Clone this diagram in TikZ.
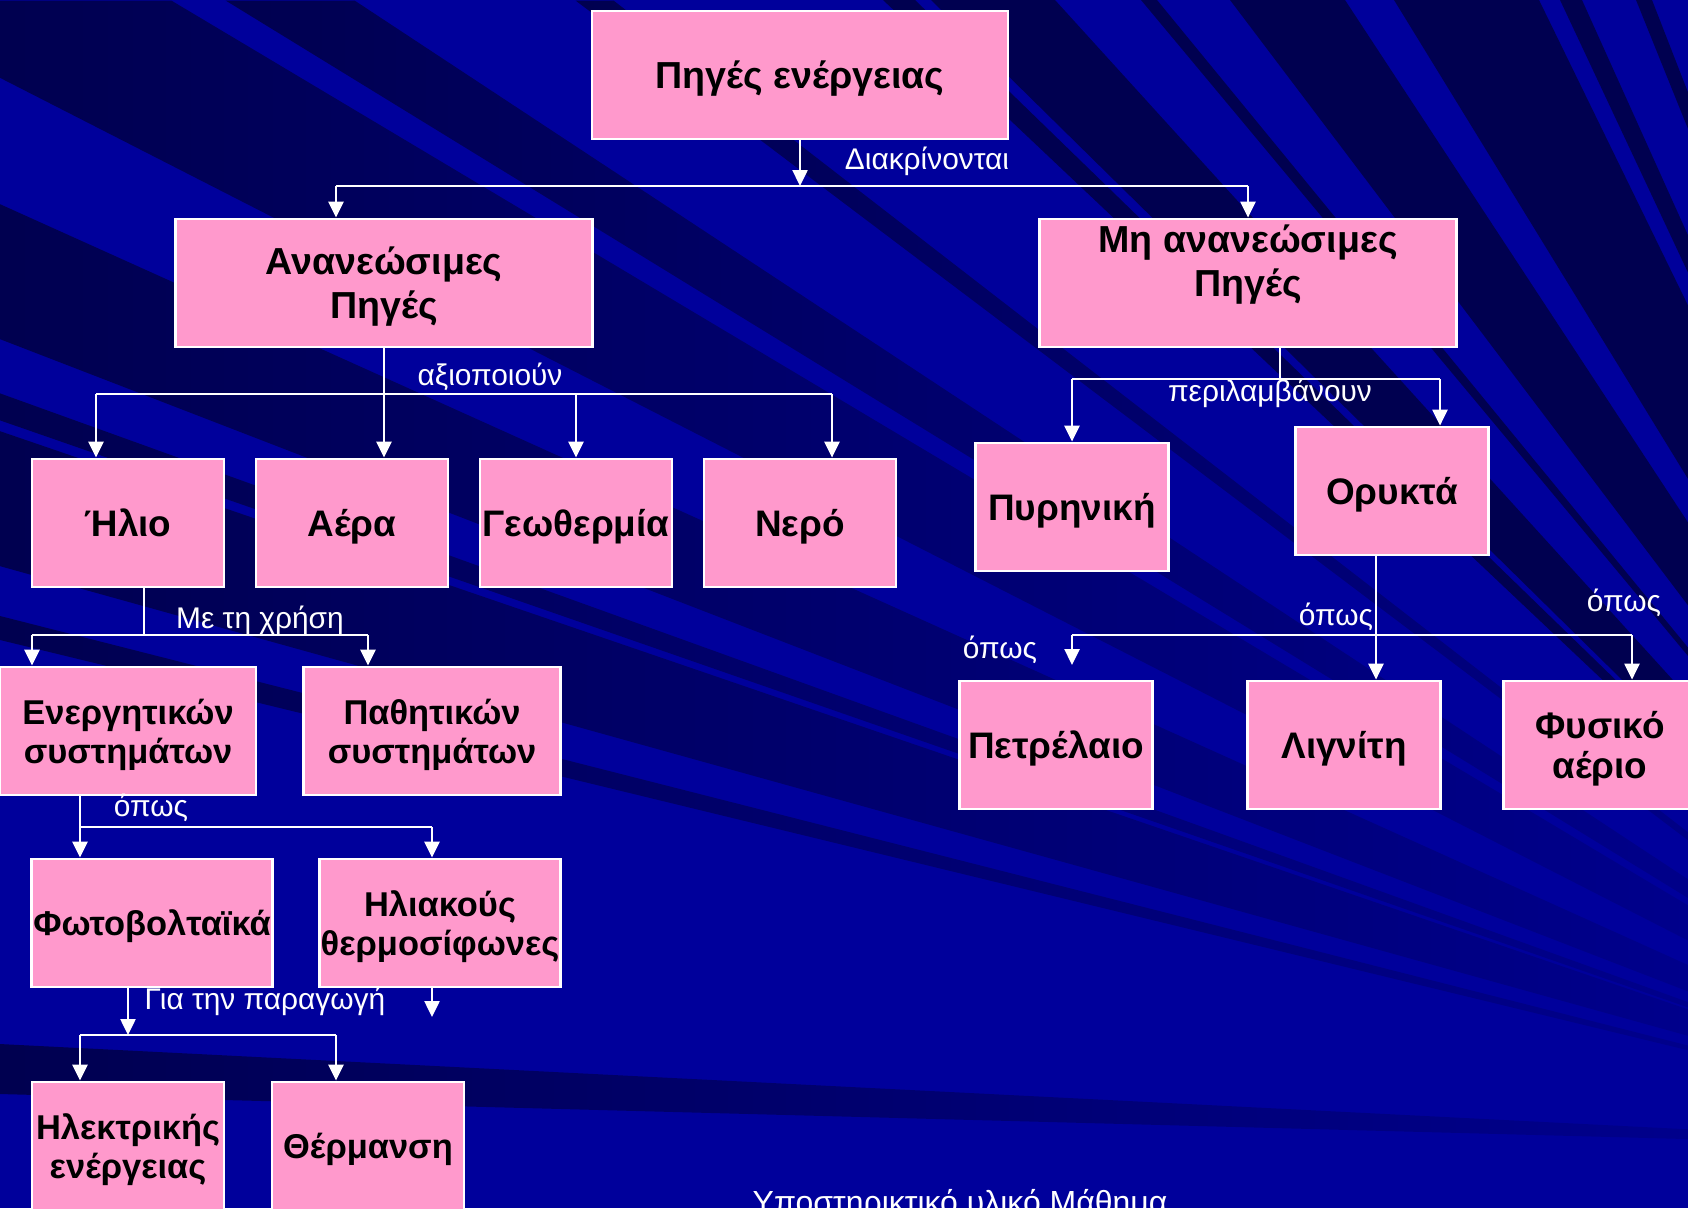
\documentclass[tikz,border=0pt]{standalone}
\usepackage{fontspec}
\setmainfont{Liberation Sans}
\usepackage{xcolor}
\usetikzlibrary{arrows.meta,fadings}
\definecolor{bgblue}{RGB}{0,0,155}
\definecolor{bgdark}{RGB}{0,0,80}
\definecolor{boxpink}{RGB}{255,153,204}
\tikzset{
  box/.style={draw=white, line width=0.8pt, fill=boxpink, align=center, inner sep=0pt,
    minimum height=12.8mm, text depth=0pt, font=\bfseries\fontsize{10.5}{11.5}\selectfont},
  bigbox/.style={box, font=\bfseries\fontsize{10.7}{12.6}\selectfont},
  smallbox/.style={box, font=\bfseries\fontsize{9.8}{11.2}\selectfont},
  conn/.style={draw=white, line width=0.7pt},
  arr/.style={conn, -{Triangle[length=1.6mm,width=1.5mm]}},
  lbl/.style={text=white, inner sep=0pt, font=\fontsize{8.5}{10}\selectfont},
  band/.style={fill=bgdark}
}

\begin{document}
\begin{tikzpicture}[x=0.1mm,y=-0.1mm]
  \useasboundingbox (0,0) rectangle (1688,1208);
  \clip (0,0) rectangle (1688,1208);
  % background stripes
  \fill[bgblue] (0,0) rectangle (1688,1208);
  \coordinate (F) at (2100,1150);
  \fill[band, path fading=east] (F) -- (0,77) -- (0,0) -- (172,0) -- cycle;
  \foreach \a/\b in {226/355,576/614}
    \fill[band, path fading=east] (F) -- (\a,0) -- (\b,0) -- cycle;
  \foreach \a/\b in {883/915,931/1055,1141/1157,1230/1345,1394/1539,1560/1582,1636/1652}
    \fill[band] (F) -- (\a,0) -- (\b,0) -- cycle;
  \foreach \a/\b in {204/339,393/420,431/566,616/640,1044/1094}
    \fill[band, path fading=east] (F) -- (0,\a) -- (0,\b) -- cycle;

  % boxes
  \node[bigbox, minimum width=41.6mm] (sources) at (800,75) {Πηγές ενέργειας};
  \node[bigbox, minimum width=41.7mm] (renew) at (384,283) {Ανανεώσιμες\\Πηγές};
  \node[bigbox, minimum width=41.7mm] (nonrenew) at (1248,283) {Μη ανανεώσιμες\\Πηγές\\\mbox{}};

  \node[box, minimum width=19.2mm] (sun) at (128,523) {Ήλιο};
  \node[box, minimum width=19.2mm] (air) at (352,523) {Αέρα};
  \node[box, minimum width=19.2mm] (geo) at (576,523) {Γεωθερμία};
  \node[box, minimum width=19.2mm] (water) at (800,523) {Νερό};

  \node[box, minimum width=19.3mm] (nuclear) at (1072,507) {Πυρηνική};
  \node[box, minimum width=19.3mm] (fossil) at (1392,491) {Ορυκτά};

  \node[smallbox, minimum width=25.6mm] (active) at (128,731) {Ενεργητικών\\συστημάτων};
  \node[smallbox, minimum width=25.7mm] (passive) at (432,731) {Παθητικών\\συστημάτων};

  \node[smallbox, minimum width=24.1mm] (pv) at (152,923) {Φωτοβολταϊκά};
  \node[smallbox, minimum width=24.1mm] (heater) at (440,923) {Ηλιακούς\\θερμοσίφωνες};

  \node[smallbox, minimum width=19.2mm] (power) at (128,1146) {Ηλεκτρικής\\ενέργειας};
  \node[smallbox, minimum width=19.2mm] (heating) at (368,1146) {Θέρμανση};

  \node[box, minimum width=19.3mm] (oil) at (1056,745) {Πετρέλαιο};
  \node[box, minimum width=19.3mm] (lignite) at (1344,745) {Λιγνίτη};
  \node[box, minimum width=19.3mm] (gas) at (1600,745) {Φυσικό\\αέριο};

  % junctions
  \coordinate (j0) at (800,186);
  \coordinate (j1) at (336,186);
  \coordinate (j2) at (1248,186);
  \coordinate (k1) at (96,394);
  \coordinate (k3) at (576,394);
  \coordinate (k4) at (832,394);
  \coordinate (m0) at (144,635);
  \coordinate (m1) at (32,635);
  \coordinate (m2) at (368,635);
  \coordinate (n0) at (80,827);
  \coordinate (n1) at (432,827);
  \coordinate (p0) at (128,1035);
  \coordinate (p1) at (80,1035);
  \coordinate (p2) at (336,1035);
  \coordinate (q0) at (432,1017);
  \coordinate (r0) at (1280,379);
  \coordinate (r1) at (1072,379);
  \coordinate (r2) at (1440,379);
  \coordinate (s0) at (1376,635);
  \coordinate (s1) at (1072,635);
  \coordinate (s2) at (1632,635);
  \coordinate (s3) at (1072,665);

  % connectors
  \draw[arr] (sources) -- (j0);
  \draw[conn] (j1) -- (j2);
  \draw[arr] (j1) -- (j1 |- renew.north);
  \draw[arr] (j2) -- (j2 |- nonrenew.north);

  \draw[arr] (renew) -- (renew |- air.north);
  \draw[conn] (k1) -- (k4);
  \draw[arr] (k1) -- (k1 |- sun.north);
  \draw[arr] (k3) -- (k3 |- geo.north);
  \draw[arr] (k4) -- (k4 |- water.north);

  \draw[conn] (m0 |- sun.south) -- (m0);
  \draw[conn] (m1) -- (m2);
  \draw[arr] (m1) -- (m1 |- active.north);
  \draw[arr] (m2) -- (m2 |- passive.north);

  \draw[conn] (n0 |- active.south) -- (n0) -- (n1);
  \draw[arr] (n0) -- (n0 |- pv.north);
  \draw[arr] (n1) -- (n1 |- heater.north);

  \draw[arr] (p0 |- pv.south) -- (p0);
  \draw[conn] (p1) -- (p2);
  \draw[arr] (p1) -- (p1 |- power.north);
  \draw[arr] (p2) -- (p2 |- heating.north);
  \draw[arr] (q0 |- heater.south) -- (q0);

  \draw[conn] (r0 |- nonrenew.south) -- (r0);
  \draw[conn] (r1) -- (r2);
  \draw[arr] (r1) -- (r1 |- nuclear.north);
  \draw[arr] (r2) -- (r2 |- fossil.north);

  \draw[arr] (s0 |- fossil.south) -- (s0 |- lignite.north);
  \draw[conn] (s1) -- (s2);
  \draw[arr] (s1) -- (s3);
  \draw[arr] (s2) -- (s2 |- gas.north);

  % labels
  \node[lbl] (distinguish) at (927,161) {Διακρίνονται};
  \node[lbl] (exploit) at (490,377) {αξιοποιούν};
  \node[lbl] (using) at (260,620) {Με τη χρήση};
  \node[lbl] (suchas1) at (151,808) {όπως};
  \node[lbl] (produce) at (265,1001) {Για την παραγωγή};
  \node[lbl] (include) at (1270,393) {περιλαμβάνουν};
  \node[lbl] (suchas2) at (1336,617) {όπως};
  \node[lbl] (suchas3) at (1624,603) {όπως};
  \node[lbl] (suchas4) at (1000,650) {όπως};
  \node[lbl, anchor=base west, font=\fontsize{9.1}{11}\selectfont] (footer) at (752,1213) {Υποστηρικτικό υλικό Μάθημα};
\end{tikzpicture}
\end{document}
